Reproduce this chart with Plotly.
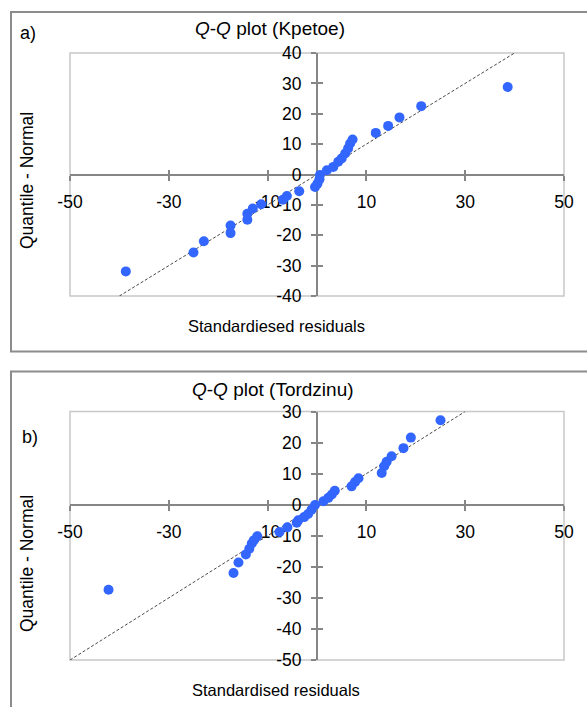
import plotly.graph_objects as go

# ---------------- data ----------------
kpetoe_resid = [-38.7, -25.0, -22.9, -17.5, -17.5, -14.1, -14.1, -13.0, -11.3, -6.9, -6.1, -3.6,
                -0.4, 0.1, 0.5, 0.6, 2.0, 3.3, 4.3, 5.0, 5.7, 6.3, 6.7, 7.2, 11.9, 14.4, 16.7, 21.1, 38.6]
kpetoe_quant = [-31.9, -25.7, -22.0, -19.3, -16.8, -14.9, -12.9, -11.2, -9.8, -8.3, -7.1, -5.5,
                -4.1, -3.0, -1.6, -0.2, 1.4, 2.5, 4.2, 5.3, 6.9, 8.6, 10.2, 11.5, 13.7, 16.0, 18.8, 22.5, 28.8]
kpetoe_ref_x = [-40, 40]
kpetoe_ref_y = [-40, 40]

tordzinu_resid = [-42.2, -16.9, -15.9, -14.4, -13.7, -13.2, -12.8, -12.1, -7.6, -6.0, -4.1, -3.8,
                  -2.6, -1.8, -1.1, -0.4, 1.3, 2.3, 3.0, 3.6, 7.0, 7.7, 8.4, 13.1, 13.6, 14.1, 15.1,
                  17.5, 19.0, 25.0]
tordzinu_quant = [-27.4, -22.0, -18.6, -16.0, -14.2, -12.5, -11.5, -10.2, -8.8, -7.3, -5.8, -5.0,
                  -4.0, -3.0, -1.6, -0.1, 1.1, 2.2, 3.3, 4.5, 5.9, 7.3, 8.5, 10.2, 12.4, 13.8, 15.6,
                  18.2, 21.6, 27.2]
tordzinu_ref_x = [-50, 30]
tordzinu_ref_y = [-50, 30]

x_ticks = [-50, -30, -10, 10, 30, 50]
y_ticks_a = [-40, -30, -20, -10, 0, 10, 20, 30, 40]
y_ticks_b = [-50, -40, -30, -20, -10, 0, 10, 20, 30]

# ---------------- layout ----------------
W, H = 587, 707
FONT = "Arial, Liberation Sans, sans-serif"
MARK = "#3366FF"
AXC = "#868686"


def px(x):
    return x / W


def py(y):
    return 1 - y / H


xdom = [px(70), px(564)]
ydom_a = [py(296), py(53)]
ydom_b = [py(660), py(411.5)]
xrange_ = [-50, 50]
yrange_a = [-40, 40]
yrange_b = [-50, 30]


def zero_pos(dom, rng):
    return dom[0] + (0 - rng[0]) / (rng[1] - rng[0]) * (dom[1] - dom[0])


fig = go.Figure()

for (xs, ys, rx, ry, xa, ya) in [
    (kpetoe_resid, kpetoe_quant, kpetoe_ref_x, kpetoe_ref_y, "x", "y"),
    (tordzinu_resid, tordzinu_quant, tordzinu_ref_x, tordzinu_ref_y, "x2", "y2"),
]:
    fig.add_trace(go.Scatter(x=rx, y=ry, mode="lines", xaxis=xa, yaxis=ya,
                             line=dict(color="#333333", width=0.9, dash="3px,2px"),
                             hoverinfo="skip", showlegend=False))
    fig.add_trace(go.Scatter(x=xs, y=ys, mode="markers", xaxis=xa, yaxis=ya,
                             marker=dict(color=MARK, size=10, line=dict(width=0)),
                             showlegend=False))

# empty traces for the overlay tick axes
for xa, ya in [("x3", "y3"), ("x4", "y4")]:
    fig.add_trace(go.Scatter(x=[], y=[], xaxis=xa, yaxis=ya, showlegend=False))

tickfont = dict(family=FONT, size=17.5, color="#000000")


def xaxis_cfg(ydom, yrng, inside=False, overlay=None):
    d = dict(domain=xdom, range=xrange_, anchor="free", position=zero_pos(ydom, yrng),
             tickmode="array", tickvals=x_ticks, ticktext=[str(v) for v in x_ticks],
             showgrid=False, zeroline=False, showline=not inside, linecolor=AXC, linewidth=2,
             ticks="inside" if inside else "outside", ticklen=5, tickwidth=2, tickcolor=AXC,
             showticklabels=not inside, tickfont=tickfont, layer="below traces",
             fixedrange=True, automargin=False, ticklabelstandoff=6)
    if overlay:
        d["overlaying"] = overlay
    return d


def yaxis_cfg(ydom, yrng, ticks, inside=False, overlay=None):
    d = dict(domain=ydom, range=yrng, anchor="free", position=zero_pos(xdom, xrange_),
             tickmode="array", tickvals=ticks, ticktext=[str(v) for v in ticks],
             showgrid=False, zeroline=False, showline=not inside, linecolor=AXC, linewidth=2,
             ticks="inside" if inside else "outside", ticklen=5, tickwidth=2, tickcolor=AXC,
             showticklabels=not inside, tickfont=tickfont, layer="below traces",
             fixedrange=True, automargin=False, ticklabelstandoff=6)
    if overlay:
        d["overlaying"] = overlay
    return d


fig.update_layout(
    width=W, height=H, margin=dict(l=0, r=0, t=0, b=0),
    paper_bgcolor="white", plot_bgcolor="white",
    font=dict(family=FONT, color="#000000"),
    xaxis=xaxis_cfg(ydom_a, yrange_a),
    yaxis=yaxis_cfg(ydom_a, yrange_a, y_ticks_a),
    xaxis2=xaxis_cfg(ydom_b, yrange_b),
    yaxis2=yaxis_cfg(ydom_b, yrange_b, y_ticks_b),
    xaxis3=xaxis_cfg(ydom_a, yrange_a, inside=True, overlay="x"),
    yaxis3=yaxis_cfg(ydom_a, yrange_a, y_ticks_a, inside=True, overlay="y"),
    xaxis4=xaxis_cfg(ydom_b, yrange_b, inside=True, overlay="x2"),
    yaxis4=yaxis_cfg(ydom_b, yrange_b, y_ticks_b, inside=True, overlay="y2"),
    showlegend=False,
)

shapes = []
# plot-area borders
for xr, yr in [("x", "y"), ("x2", "y2")]:
    shapes.append(dict(type="rect", xref=f"{xr} domain", yref=f"{yr} domain", x0=0, x1=1, y0=0, y1=1,
                       line=dict(color="#c8c8c8", width=1.5), layer="below"))
# chart frames
shapes.append(dict(type="rect", xref="paper", yref="paper", x0=px(11), x1=px(595), y0=py(351.5), y1=py(12),
                   line=dict(color="#8c8c8c", width=2), layer="below"))
shapes.append(dict(type="rect", xref="paper", yref="paper", x0=px(11), x1=px(595), y0=py(720), y1=py(371.5),
                   line=dict(color="#8c8c8c", width=2), layer="below"))
fig.update_layout(shapes=shapes)

ann = []


def add_text(text, x, y, size, angle=0):
    ann.append(dict(text=text, xref="paper", yref="paper", x=px(x), y=py(y), xanchor="center",
                    yanchor="middle", showarrow=False, textangle=angle,
                    font=dict(family=FONT, size=size, color="#000000")))


add_text("<i>Q</i>-<i>Q</i> plot (Kpetoe)", 270, 28, 19)
add_text("<i>Q</i>-<i>Q</i> plot (Tordzinu)", 273, 390, 19)
add_text("a)", 28, 33, 18)
add_text("b)", 30, 437, 18)
add_text("Standardiesed residuals", 276, 326, 16.5)
add_text("Standardised residuals", 276, 690, 16.5)
add_text("Quantile - Normal", 27, 181, 17.5, -90)
add_text("Quantile - Normal", 27, 564, 17.5, -90)
fig.update_layout(annotations=ann)

fig.write_html("out.html")
